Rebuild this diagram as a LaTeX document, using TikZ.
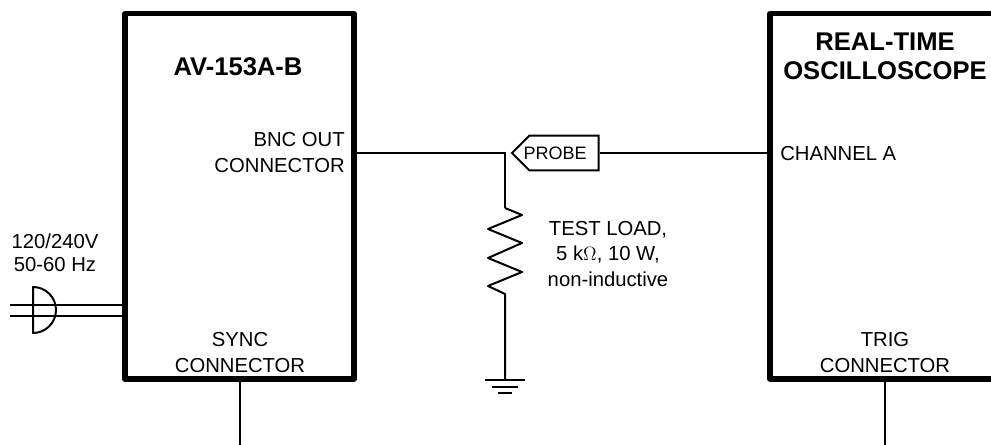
\documentclass[tikz,border=0pt]{standalone}
\usepackage{fontspec}
\setmainfont{Liberation Sans}
\usetikzlibrary{shapes.symbols}
\tikzset{
	unitbox/.style={draw, line width=4pt, minimum width=171.75pt, minimum height=274pt, line join=round},
	wire/.style={black, line width=1.5pt},
	label/.style={align=center, inner sep=0pt, font=\fontsize{15.2}{19.5}\selectfont},
	title/.style={align=center, inner sep=0pt, font=\fontsize{19.2}{22}\selectfont\bfseries},
	probetag/.style={draw, line width=1.5pt, shape=signal, signal to=west, signal from=nowhere, minimum width=65pt, minimum height=26pt, inner sep=0pt}
}
\begin{document}
\begin{tikzpicture}[x=0.75pt, y=-0.75pt]
	\useasboundingbox (0, 0) rectangle (991, 445);
	\clip (0, 0) rectangle (991, 445);

	\node[unitbox] (av) at (239.5, 196.25) {};
	\node[unitbox, minimum width=300pt] (scope) at (970, 196.25) {};

	\node[title] (avname) at (238, 67) {AV-153A-B};
	\node[title] (scopename) at (885, 56) {REAL-TIME\\OSCILLOSCOPE};
	\node[label, align=right, anchor=east] (bnc) at (345, 153) {BNC OUT\\CONNECTOR};
	\node[label, anchor=west] (channel) at (780, 153.5) {CHANNEL A};
	\node[label] (sync) at (240, 353) {SYNC\\CONNECTOR};
	\node[label] (trig) at (885, 353) {TRIG\\CONNECTOR};
	\node[label, font=\fontsize{15.2}{17.5}\selectfont] (mains) at (55, 253) {120/240V\\50-60 Hz};
	\node[label, font=\fontsize{15.2}{18.9}\selectfont] (load) at (608, 254) {TEST LOAD,\\5 k$\Omega$, 10 W,\\non-inductive};
	\node[probetag] (probe) at (564, 153) {};
	\node[label, font=\fontsize{13.5}{16}\selectfont] (probename) at (555, 153) {PROBE};

	\coordinate (joint) at (505, 153);
	\coordinate (loadtop) at (505, 208);
	\coordinate (loadend) at (505, 294);
	\coordinate (gnd) at (505, 380);
	\coordinate (syncend) at (240, 445);
	\coordinate (trigend) at (885, 445);
	\coordinate (plugl) at (10, 305);
	\coordinate (plugn) at (10, 316);

	\draw[wire] (av.east |- joint) to (joint) to (loadtop);
	\draw[wire] (probe.east) to (scope.west |- probe.east);
	\draw[wire, line join=round] (loadtop) -- (522, 215) -- (488, 229) -- (522, 243) -- (488, 258) -- (522, 272) -- (488, 286) -- (loadend) to (gnd);
	\draw[wire] (485, 380) to (525, 380);
	\draw[wire] (492, 387) to (518, 387);
	\draw[wire] (498, 393) to (512, 393);

	\draw[wire] (sync.south |- av.south) to (syncend);
	\draw[wire] (trig.south |- scope.south) to (trigend);

	\draw[wire] (plugl) to (av.west |- plugl);
	\draw[wire] (plugn) to (av.west |- plugn);
	\draw[wire, line join=round] (33, 287) arc (-90:90:23) -- cycle;
\end{tikzpicture}
\end{document}
